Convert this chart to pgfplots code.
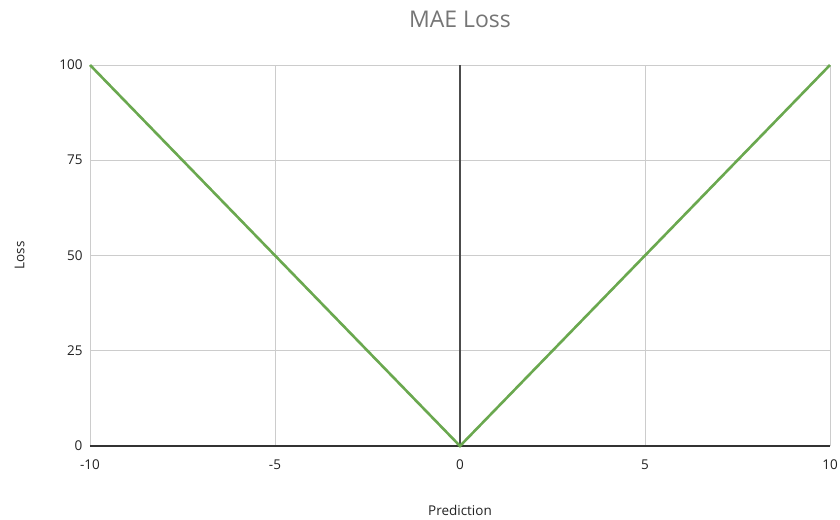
\documentclass[border=0pt]{standalone}
\usepackage{fontspec}
\setmainfont{Open Sans}
\usepackage{pgfplots}
\pgfplotsset{compat=1.18}
\definecolor{lossgreen}{HTML}{6AA84F}
\definecolor{gridgray}{HTML}{CCCCCC}
\definecolor{titlegray}{HTML}{757575}
\definecolor{labelblack}{HTML}{222222}
\begin{document}
\begin{tikzpicture}
\useasboundingbox (-90pt,-73pt) rectangle (750pt,446pt);
\begin{axis}[
  scale only axis,
  width=740pt, height=381pt,
  xmin=-10, xmax=10, ymin=0, ymax=100,
  xtick={-10,-5,5,10}, ytick={25,50,75,100},
  extra x ticks={0}, extra y ticks={0},
  extra x tick style={grid style={draw=black!70, line width=1.1pt}},
  extra y tick style={grid style={draw=black!80, line width=1.5pt}},
  xticklabels={-10,-5,5,10},
  grid=major,
  grid style={draw=gridgray, line width=0.9pt},
  axis line style={draw=none},
  major tick length=0pt,
  tick label style={font=\fontsize{13.5}{15}\selectfont, text=labelblack},
  /pgf/number format/assume math mode=true,
  xticklabel style={yshift=-10pt},
  yticklabel style={xshift=-4pt},
  title={MAE Loss},
  title style={font=\fontsize{23}{26}\selectfont, text=titlegray, at={(0.5,1)}, yshift=28pt},
  xlabel={Prediction},
  ylabel={Loss},
  label style={font=\fontsize{13.5}{15}\selectfont, text=labelblack},
  xlabel style={at={(0.5,0)}, yshift=-56pt},
  ylabel style={at={(0,0.5)}, yshift=62pt},
  clip=false,
]
\addplot[color=lossgreen, line width=2.6pt, mark=none] coordinates {
  (-10,100) (-5,50) (0,0) (5,50) (10,100)
};
\end{axis}
\end{tikzpicture}
\end{document}
